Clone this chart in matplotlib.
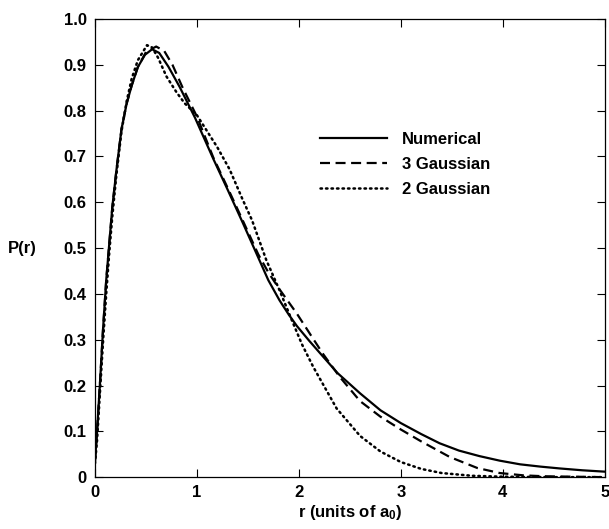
import matplotlib
matplotlib.use('Agg')
import matplotlib.pyplot as plt

# radial probability P(r)
r_num = [0, 0.02, 0.05, 0.078, 0.11, 0.14, 0.17, 0.21, 0.26, 0.31, 0.36, 0.42, 0.49, 0.56,
         0.63, 0.72, 0.83, 0.98, 1.16, 1.3, 1.45, 1.6, 1.7, 1.81, 1.9, 1.98, 2.1, 2.21, 2.38,
         2.6, 2.8, 3.0, 3.2, 3.38, 3.57, 3.77, 3.97, 4.17, 4.37, 4.56, 4.78, 5.0]
p_num = [0.035, 0.10, 0.21, 0.32, 0.43, 0.51, 0.59, 0.67, 0.76, 0.815, 0.855, 0.895, 0.922, 0.934,
         0.926, 0.896, 0.852, 0.785, 0.695, 0.628, 0.555, 0.48, 0.43, 0.386, 0.355, 0.33, 0.298,
         0.27, 0.227, 0.183, 0.146, 0.118, 0.094, 0.074, 0.058, 0.046, 0.036, 0.028, 0.023,
         0.019, 0.015, 0.012]

r_g3 = [0, 0.02, 0.05, 0.078, 0.11, 0.14, 0.17, 0.21, 0.26, 0.31, 0.36, 0.42, 0.5, 0.6,
        0.68, 0.76, 0.86, 1.0, 1.16, 1.3, 1.45, 1.6, 1.7, 1.81, 1.98, 2.14, 2.24, 2.4, 2.6,
        2.8, 3.0, 3.2, 3.48, 3.75, 3.97, 4.2, 4.4, 4.7, 5.0]
p_g3 = [0.035, 0.10, 0.21, 0.32, 0.43, 0.51, 0.59, 0.67, 0.76, 0.815, 0.855, 0.895, 0.928, 0.94,
        0.93, 0.9, 0.85, 0.787, 0.698, 0.632, 0.56, 0.487, 0.447, 0.41, 0.357, 0.302, 0.268,
        0.219, 0.166, 0.132, 0.104, 0.078, 0.044, 0.02, 0.009, 0.004, 0.002, 0.001, 0.0]

r_g2 = [0, 0.02, 0.05, 0.08, 0.11, 0.14, 0.17, 0.21, 0.26, 0.31, 0.36, 0.42, 0.51, 0.56,
        0.62, 0.7, 0.8, 0.88, 1.0, 1.1, 1.2, 1.32, 1.45, 1.54, 1.68, 1.81, 1.93, 2.03, 2.14,
        2.37, 2.6, 2.8, 3.0, 3.2, 3.4, 3.7, 4.0, 4.5, 5.0]
p_g2 = [0.03, 0.08, 0.19, 0.30, 0.40, 0.49, 0.57, 0.66, 0.755, 0.82, 0.87, 0.91, 0.943, 0.938,
        0.915, 0.875, 0.84, 0.816, 0.79, 0.755, 0.72, 0.672, 0.605, 0.561, 0.474, 0.408, 0.343,
        0.29, 0.241, 0.15, 0.09, 0.056, 0.033, 0.018, 0.009, 0.003, 0.001, 0.0, 0.0]

labels = ['Numerical', '3 Gaussian', '2 Gaussian']
x_ticks = [0, 1, 2, 3, 4, 5]
y_ticks = [0, 0.1, 0.2, 0.3, 0.4, 0.5, 0.6, 0.7, 0.8, 0.9, 1.0]
y_tick_labels = ['0', '0.1', '0.2', '0.3', '0.4', '0.5', '0.6', '0.7', '0.8', '0.9', '1.0']

plt.rcParams['font.family'] = ['Liberation Sans', 'DejaVu Sans']
plt.rcParams['font.weight'] = 'bold'
plt.rcParams['mathtext.fontset'] = 'custom'
plt.rcParams['mathtext.rm'] = 'Liberation Sans:bold'
plt.rcParams['mathtext.bf'] = 'Liberation Sans:bold'
plt.rcParams['mathtext.default'] = 'bf'

fig = plt.figure(figsize=(6.09, 5.29), dpi=100)
ax = fig.add_axes([0.156, 0.098, 0.837, 0.866])

ax.plot(r_num, p_num, color='black', linewidth=1.6, linestyle='-', label=labels[0])
ax.plot(r_g3, p_g3, color='black', linewidth=1.6, linestyle=(0, (4.5, 2.5)), label=labels[1])
ax.plot(r_g2, p_g2, color='black', linewidth=1.8, linestyle=(0, (0.6, 1.6)),
        dash_capstyle='round', label=labels[2])

ax.set_xlim(0, 5)
ax.set_ylim(0, 1.0)
ax.set_xticks(x_ticks)
ax.set_yticks(y_ticks)
ax.set_yticklabels(y_tick_labels)
ax.tick_params(direction='in', length=6, width=0.8, top=True, right=True,
               labelsize=12, pad=6, colors='black')
for lab in ax.get_xticklabels() + ax.get_yticklabels():
    lab.set_fontweight('bold')
for sp in ax.spines.values():
    sp.set_linewidth(0.9)

ax.set_xlabel(r'r (units of a$_0$)', fontsize=12, fontweight='bold', labelpad=2)
ax.set_ylabel('P(r)', fontsize=12, fontweight='bold', rotation=0, labelpad=30, va='center')

ax.legend(loc='upper left', bbox_to_anchor=(0.442, 0.754), frameon=False,
          handlelength=4.0, handletextpad=0.9, labelspacing=0.6, borderpad=0, borderaxespad=0,
          prop={'weight': 'bold', 'size': 12})

fig.savefig('out.png', dpi=100)
